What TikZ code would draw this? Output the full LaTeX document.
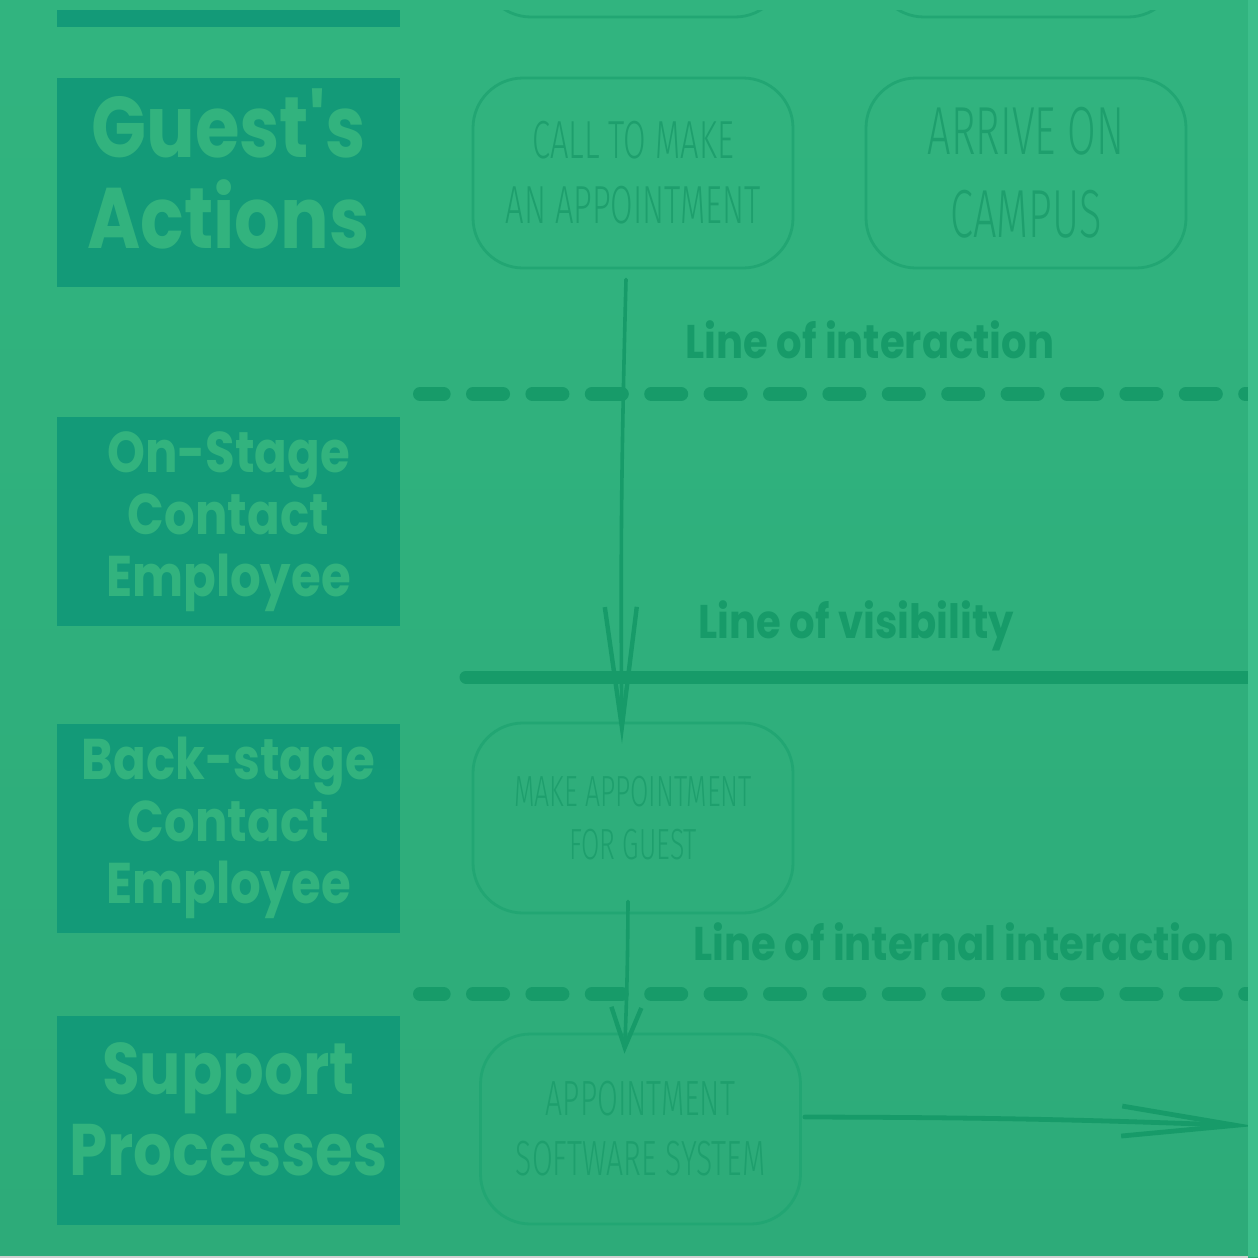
\documentclass[tikz,border=0pt]{standalone}
\usepackage{fontspec}
\usetikzlibrary{arrows.meta}
\newfontfamily\lanefont[FakeStretch=0.84]{Poppins}
\newfontfamily\linefont[FakeStretch=0.85]{Poppins}
\newfontfamily\boxfont[FakeStretch=0.61]{Fira Sans Light}
\definecolor{bgtop}{HTML}{31B47F}
\definecolor{bgbot}{HTML}{2DAB79}
\definecolor{lanebg}{HTML}{139A78}
\definecolor{lanetext}{HTML}{32B37E}
\definecolor{darkline}{HTML}{179B69}
\definecolor{boxline}{HTML}{22A673}
\definecolor{boxtext}{HTML}{1E9F6D}
\definecolor{edge}{HTML}{3DBE8B}

\tikzset{
  lane/.style={fill=lanebg, text=lanetext, align=center, inner sep=0pt,
    minimum width=171.5pt, minimum height=104.5pt},
  stepbox/.style={draw=boxline, line width=1.4pt, rounded corners=25pt,
    text=boxtext, align=center, inner sep=0pt,
    minimum width=160pt, minimum height=95pt},
  linelabel/.style={anchor=base west, text=darkline, inner sep=0pt,
    font=\linefont\bfseries\fontsize{23.6}{26}\selectfont},
  sketch/.style={draw=darkline, line width=1.8pt, line cap=round},
  dashline/.style={draw=darkline, line width=7pt, line cap=round,
    dash pattern=on 15pt off 14.7pt, dash phase=3.2pt}
}

\begin{document}
\begin{tikzpicture}[x=0.5pt,y=-0.5pt]
	\useasboundingbox (0,0) rectangle (1258,1258);
	\shade[top color=bgtop, bottom color=bgbot] (0,0) rectangle (1258,1258);
	% rows cut off at the top
	\begin{scope}
	\clip (0,10) rectangle (1258,1258);
	\fill[lanebg] (57,-182) rectangle (400,27);
	\draw[boxline, line width=1.4pt, rounded corners=25pt] (481,-173) rectangle (785,17);
	\draw[boxline, line width=1.4pt, rounded corners=25pt] (874,-173) rectangle (1178,17);
	\end{scope}
	% lane titles
	\node[lane, text depth=13.5pt, font=\lanefont\bfseries\fontsize{43}{45.5}\selectfont] (guest) at (228.5,182.5) {Guest's\\Actions};
	\node[lane, font=\lanefont\bfseries\fontsize{28.7}{31}\selectfont] (onstage) at (228.5,521.5) {On-Stage\\Contact\\Employee};
	\node[lane, font=\lanefont\bfseries\fontsize{28.7}{31}\selectfont] (backstage) at (228.5,828) {Back-stage\\Contact\\Employee};
	\node[lane, text depth=11.5pt, font=\lanefont\bfseries\fontsize{36.5}{40.5}\selectfont] (support) at (228.5,1120.5) {Support\\Processes};
	% steps
	\node[stepbox, font=\boxfont\fontsize{26.8}{32.5}\selectfont] (call) at (633,173) {CALL TO MAKE\\AN APPOINTMENT};
	\node[stepbox, font=\boxfont\fontsize{34}{41.5}\selectfont] (arrive) at (1026,173) {ARRIVE ON\\CAMPUS};
	\node[stepbox, font=\boxfont\fontsize{21.8}{26.5}\selectfont] (make) at (633,818) {MAKE APPOINTMENT\\FOR GUEST};
	\node[stepbox, font=\boxfont\fontsize{24.7}{30}\selectfont] (software) at (640.5,1129) {APPOINTMENT\\SOFTWARE SYSTEM};
	% lines
	\draw[dashline] (420,394) -- (1258,394);
	\draw[darkline, line width=6.5pt, line cap=round] (466,677) -- (1258,677);
	\draw[dashline] (420,994) -- (1258,994);
	\node[linelabel] (interaction) at (685,358) {Line of interaction};
	\node[linelabel] (visibility) at (698,638) {Line of visibility};
	\node[linelabel] (internal) at (693,960) {Line of internal interaction};
	% arrows
	\coordinate (out) at (1254,1126);
	\draw[sketch, -{Straight Barb[length=60pt,width=16pt,line width=2.2pt]}]
		([xshift=-3.5pt,yshift=-5pt]call.south) to[bend right=1] ([xshift=-5.5pt,yshift=-11pt]make.north);
	\draw[sketch, -{Straight Barb[length=20pt,width=15pt,line width=2.2pt]}]
		([xshift=-2.5pt,yshift=6.5pt]make.south) to[bend left=1] ([xshift=-8pt,yshift=-10.5pt]software.north);
	\draw[sketch, line width=2.4pt, -{Straight Barb[length=57pt,width=15pt,line width=2.4pt]}]
		([xshift=1.5pt,yshift=6pt]software.east) to[bend left=1] (out);
	% edges of the image
	\fill[edge] (1248,0) rectangle (1258,1257);
	\fill[black!18] (0,1255.5) rectangle (1248,1258);
\end{tikzpicture}
\end{document}
